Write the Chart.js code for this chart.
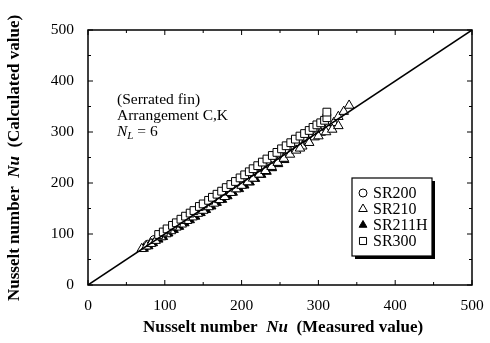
<!DOCTYPE html>
<html>
<head>
<meta charset="utf-8">
<script src="https://cdn.jsdelivr.net/npm/chart.js@4.4.1/dist/chart.umd.min.js"></script>
<style>
html,body{margin:0;padding:0;background:#fff;}
#wrap{width:490px;height:343px;position:relative;}
</style>
</head>
<body>
<div id="wrap"><canvas id="c" width="490" height="343"></canvas></div>
<script>
// ---- data (measured, calculated) ----
const seriesNames = ["SR200", "SR210", "SR211H", "SR300"];
const sr200Measured = [78, 86, 94, 103, 112, 121, 130, 139, 148, 157, 166, 176, 186, 196, 206, 216, 226, 237, 248, 259, 270, 282, 294];
const sr200Calc     = [79, 88, 96, 105, 114, 124, 133, 142, 152, 161, 171, 181, 191, 201, 212, 222, 232, 244, 255, 267, 278, 291, 304];
const sr210Measured = [70, 76, 82, 88, 95, 102, 108, 115, 122, 129, 136, 143, 150, 157, 164, 171, 178, 186, 193, 200, 208, 215, 223, 231, 239, 247, 255, 263, 271, 279, 287, 295, 303, 312, 320, 326, 333, 340, 276, 288, 300, 310, 318, 326];
const sr210Calc     = [71, 76, 81, 87, 94, 100, 106, 113, 119, 126, 133, 140, 146, 153, 160, 167, 173, 181, 188, 195, 202, 209, 217, 224, 232, 240, 248, 256, 264, 272, 281, 290, 299, 309, 318, 330, 340, 352, 268, 279, 292, 300, 305, 312];
const sr211hMeasured = [73, 79, 85, 92, 98, 105, 112, 119, 126, 133, 140, 147, 154, 161, 168, 175, 182, 189, 197, 204, 211, 218, 226, 233, 240, 248, 256];
const sr211hCalc     = [71, 76, 82, 89, 94, 101, 108, 114, 121, 127, 134, 141, 147, 154, 161, 167, 174, 181, 188, 195, 201, 208, 216, 222, 229, 237, 245];
const sr300Measured = [92, 98, 103, 110, 115, 121, 127, 133, 138, 145, 150, 157, 162, 168, 174, 180, 186, 192, 198, 204, 210, 215, 221, 227, 233, 240, 246, 252, 258, 264, 270, 276, 282, 288, 293, 298, 303, 308, 311, 311];
const sr300Calc     = [99, 104, 110, 117, 122, 129, 135, 141, 146, 154, 159, 166, 172, 178, 184, 191, 197, 203, 210, 216, 222, 228, 234, 241, 247, 254, 260, 267, 273, 279, 286, 292, 297, 303, 309, 314, 318, 323, 328, 339];
const diagX = [0, 500];
const diagY = [0, 500];
const xTickValues = [0, 100, 200, 300, 400, 500];
const yTickValues = [0, 100, 200, 300, 400, 500];

const toPts = (xs, ys) => xs.map((x, i) => ({x: x, y: ys[i]}));
const SERIF = "'Liberation Serif', 'DejaVu Serif', serif";

const styles = [
  {pointStyle: 'circle', bg: 'rgba(255,255,255,1)', r: 4.5},
  {pointStyle: 'triangle', bg: 'rgba(255,255,255,1)', r: 5.5},
  {pointStyle: 'triangle', bg: '#000', r: 5},
  {pointStyle: 'rect', bg: 'rgba(255,255,255,1)', r: 5.5}
];
const seriesData = [
  toPts(sr200Measured, sr200Calc),
  toPts(sr210Measured, sr210Calc),
  toPts(sr211hMeasured, sr211hCalc),
  toPts(sr300Measured, sr300Calc)
];

const datasets = [{
  type: 'line', label: 'diag', data: toPts(diagX, diagY),
  borderColor: '#000', borderWidth: 1.5, pointRadius: 0, order: 0
}];
const orders = [4, 2, 3, 1];
seriesNames.forEach((n, i) => {
  datasets.push({
    type: 'scatter', label: n, data: seriesData[i],
    pointStyle: styles[i].pointStyle, pointRadius: styles[i].r,
    backgroundColor: styles[i].bg, borderColor: '#000', borderWidth: 1, order: orders[i]
  });
});

const decor = {
  id: 'decor',
  afterDatasetsDraw(chart) {
    const ctx = chart.ctx, a = chart.chartArea;
    const xs = chart.scales.x, ys = chart.scales.y;
    ctx.save();
    ctx.strokeStyle = '#000';
    ctx.lineWidth = 1.5;
    ctx.strokeRect(a.left, a.top, a.right - a.left, a.bottom - a.top);
    ctx.lineWidth = 1;
    // inward ticks (major 100, minor 50)
    for (let v = 0; v <= 500; v += 50) {
      const len = (v % 100 === 0) ? 5 : 3;
      const px = xs.getPixelForValue(v), py = ys.getPixelForValue(v);
      ctx.beginPath();
      ctx.moveTo(px, a.bottom); ctx.lineTo(px, a.bottom - len);
      ctx.moveTo(px, a.top); ctx.lineTo(px, a.top + len);
      ctx.moveTo(a.left, py); ctx.lineTo(a.left + len, py);
      ctx.moveTo(a.right, py); ctx.lineTo(a.right - len, py);
      ctx.stroke();
    }
    // annotation text
    ctx.fillStyle = '#000';
    ctx.textBaseline = 'middle';
    ctx.textAlign = 'left';
    ctx.font = '15.5px ' + SERIF;
    ctx.fillText('(Serrated fin)', 117, 100);
    ctx.fillText('Arrangement C,K', 117, 116);
    ctx.font = 'italic 15.5px ' + SERIF;
    ctx.fillText('N', 117, 132);
    let w = ctx.measureText('N').width;
    ctx.font = 'italic 11px ' + SERIF;
    ctx.fillText('L', 117 + w, 136);
    let w2 = ctx.measureText('L').width;
    ctx.font = '15.5px ' + SERIF;
    ctx.fillText(' = 6', 117 + w + w2, 132);

    // legend
    const lx = 352, ly = 178, lw = 80, lh = 78;
    ctx.fillStyle = '#fff';
    ctx.fillRect(lx, ly, lw, lh);
    ctx.fillStyle = '#000';
    ctx.fillRect(lx + 3, ly + lh, lw, 3);
    ctx.fillRect(lx + lw, ly + 3, 3, lh);
    ctx.lineWidth = 1.2;
    ctx.strokeRect(lx, ly, lw, lh);
    ctx.lineWidth = 1;
    seriesNames.forEach((n, i) => {
      const yy = ly + 15 + i * 16;
      const s = styles[i];
      ctx.fillStyle = s.bg;
      ctx.strokeStyle = '#000';
      Chart.helpers.drawPoint(ctx, {pointStyle: s.pointStyle, radius: s.r - 0.5, borderWidth: 1}, lx + 11, yy);
      ctx.fillStyle = '#000';
      ctx.font = '16px ' + SERIF;
      ctx.textAlign = 'left';
      ctx.fillText(n, lx + 21, yy + 1);
    });

    // axis titles
    const drawMixed = (parts, cx, cy) => {
      let total = 0;
      parts.forEach(p => { ctx.font = p.f; total += ctx.measureText(p.t).width; });
      let x = cx - total / 2;
      parts.forEach(p => { ctx.font = p.f; ctx.fillText(p.t, x, cy); x += ctx.measureText(p.t).width; });
    };
    ctx.textAlign = 'left';
    const B = 'bold 17px ' + SERIF, BI = 'bold italic 17px ' + SERIF;
    drawMixed([{t: 'Nusselt number  ', f: B}, {t: 'Nu', f: BI}, {t: '  (Measured value)', f: B}], 283, 328);
    ctx.save();
    ctx.translate(15, 158);
    ctx.rotate(-Math.PI / 2);
    drawMixed([{t: 'Nusselt number  ', f: B}, {t: 'Nu', f: BI}, {t: '  (Calculated value)', f: B}], 0, 0);
    ctx.restore();
    ctx.restore();
  }
};

new Chart(document.getElementById('c'), {
  data: {datasets},
  options: {
    responsive: false,
    animation: false,
    layout: {padding: {top: 30, right: 18, left: 0, bottom: 0}},
    plugins: {legend: {display: false}, tooltip: {enabled: false}},
    scales: {
      x: {
        type: 'linear', min: 0, max: 500,
        afterBuildTicks: s => { s.ticks = xTickValues.map(v => ({value: v})); },
        afterFit: s => { s.height = 58; },
        grid: {display: false}, border: {display: false},
        ticks: {color: '#000', font: {family: SERIF, size: 15.5}, padding: 4, maxRotation: 0}
      },
      y: {
        type: 'linear', min: 0, max: 500,
        afterBuildTicks: s => { s.ticks = yTickValues.map(v => ({value: v})); },
        afterFit: s => { s.width = 88; },
        grid: {display: false}, border: {display: false},
        ticks: {color: '#000', font: {family: SERIF, size: 15.5}, padding: 6}
      }
    }
  },
  plugins: [decor]
});
</script>
</body>
</html>
